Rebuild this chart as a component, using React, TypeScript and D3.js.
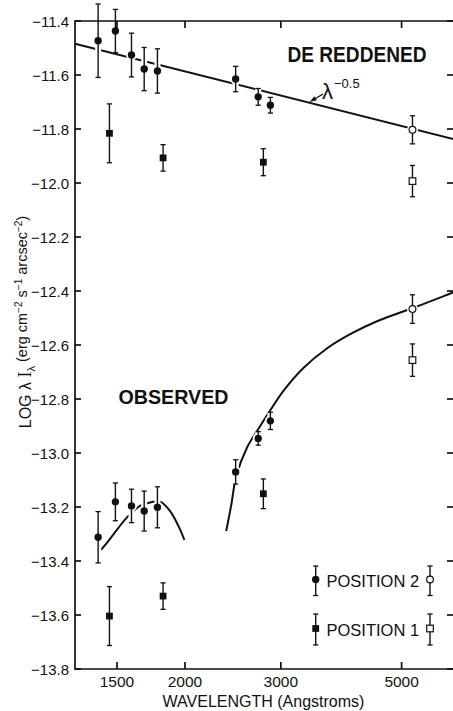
import React, { useEffect, useRef } from 'react';
import * as d3 from 'd3';

const W = 453;
const H = 711;

// tick values
const xTicks = [1500, 2000, 3000, 5000];
const yTicks = [-13.8, -13.6, -13.4, -13.2, -13.0, -12.8, -12.6, -12.4, -12.2, -12.0, -11.8, -11.6, -11.4];

// position 2 (circles), IUE wavelengths
const pos2Wave = [1385, 1490, 1595, 1683, 1780, 2478, 2726, 2870];
const pos2Dered = [-11.473, -11.437, -11.526, -11.578, -11.585, -11.615, -11.681, -11.712];
const pos2DeredErr = [0.136, 0.08, 0.081, 0.08, 0.082, 0.047, 0.031, 0.029];
const pos2Obs = [-13.312, -13.181, -13.196, -13.215, -13.201, -13.07, -12.946, -12.881];
const pos2ObsErr = [0.095, 0.07, 0.062, 0.074, 0.076, 0.045, 0.025, 0.032];

// position 1 (squares)
const pos1Wave = [1453, 1823, 2786];
const pos1Dered = [-11.816, -11.907, -11.923];
const pos1DeredErr = [0.109, 0.049, 0.05];
const pos1Obs = [-13.604, -13.53, -13.151];
const pos1ObsErr = [0.109, 0.049, 0.055];

// ground based optical points (open symbols)
const optWave = 5235;
const pos2Opt = [-11.803, -12.467];
const pos2OptErr = [0.052, 0.053];
const pos1Opt = [-11.993, -12.656];
const pos1OptErr = [0.058, 0.06];

// lambda^-0.5 law (end points)
const lawWave = [1256, 6240];
const lawLog = [-11.484, -11.838];

// reddened model curves
const uvWave = [1402, 1446, 1508, 1574, 1654, 1726, 1800, 1878, 1945, 1995];
const uvLog = [-13.359, -13.326, -13.278, -13.233, -13.196, -13.183, -13.18, -13.215, -13.27, -13.322];
const optCurveWave = [2381, 2432, 2485, 2603, 2728, 2871, 3033, 3300, 3655, 4030, 4516, 5241, 5977, 6235];
const optCurveLog = [-13.289, -13.193, -13.085, -12.978, -12.911, -12.841, -12.77, -12.685, -12.611, -12.559, -12.511, -12.463, -12.419, -12.404];

const FONT = '"Liberation Sans", Arial, Helvetica, sans-serif';

const buildChart = (node: SVGSVGElement) => {
  const svg = d3.select(node);
  svg.selectAll('*').remove();

  const left = 75, right = 454, top = 21, bottom = 669;
  const x = d3.scaleLog().domain([1256, 6240]).range([left, right]);
  const y = d3.scaleLinear().domain([-13.8, -11.4]).range([bottom, top]);

  svg.append('rect').attr('width', W).attr('height', H).attr('fill', '#fff');

  const line = d3
    .line<[number, number]>()
    .x(d => x(d[0]))
    .y(d => y(d[1]))
    .curve(d3.curveCatmullRom.alpha(0.5));

  const curves = [
    d3.zip(lawWave, lawLog),
    d3.zip(uvWave, uvLog),
    d3.zip(optCurveWave, optCurveLog),
  ];
  svg
    .append('g')
    .selectAll('path')
    .data(curves)
    .enter()
    .append('path')
    .attr('d', d => line(d as [number, number][]))
    .attr('fill', 'none')
    .attr('stroke', '#111')
    .attr('stroke-width', 2);

  // collect all points
  type Pt = { w: number; v: number; e: number; shape: 'circle' | 'square'; open: boolean };
  const pts: Pt[] = [];
  pos2Wave.forEach((w, i) => {
    pts.push({ w, v: pos2Dered[i], e: pos2DeredErr[i], shape: 'circle', open: false });
    pts.push({ w, v: pos2Obs[i], e: pos2ObsErr[i], shape: 'circle', open: false });
  });
  pos1Wave.forEach((w, i) => {
    pts.push({ w, v: pos1Dered[i], e: pos1DeredErr[i], shape: 'square', open: false });
    pts.push({ w, v: pos1Obs[i], e: pos1ObsErr[i], shape: 'square', open: false });
  });
  pos2Opt.forEach((v, i) => pts.push({ w: optWave, v, e: pos2OptErr[i], shape: 'circle', open: true }));
  pos1Opt.forEach((v, i) => pts.push({ w: optWave, v, e: pos1OptErr[i], shape: 'square', open: true }));

  // white halos so the curves break at the symbols
  const halo = svg.append('g');
  pts.forEach(p => {
    const cx = x(p.w), cy = y(p.v);
    halo.append('line')
      .attr('x1', cx).attr('x2', cx)
      .attr('y1', y(p.v + p.e)).attr('y2', y(p.v - p.e))
      .attr('stroke', '#fff').attr('stroke-width', 6);
    halo.append('circle').attr('cx', cx).attr('cy', cy).attr('r', 5.5).attr('fill', '#fff');
  });

  // frame
  const frame = svg.append('g').attr('stroke', '#111').attr('stroke-width', 1.7).attr('fill', 'none');
  frame.append('path').attr('d', `M${right},${top}H${left}V${bottom}H${right}`);

  // y ticks
  yTicks.forEach(v => {
    frame.append('line').attr('x1', left).attr('x2', left + 6).attr('y1', y(v)).attr('y2', y(v));
    frame.append('line').attr('x1', right - 7).attr('x2', right).attr('y1', y(v)).attr('y2', y(v));
  });
  xTicks.forEach(w => {
    frame.append('line').attr('x1', x(w)).attr('x2', x(w)).attr('y1', bottom).attr('y2', bottom - 7);
    frame.append('line').attr('x1', x(w)).attr('x2', x(w)).attr('y1', top).attr('y2', top + 7);
  });

  svg
    .append('g')
    .selectAll('text')
    .data(yTicks)
    .enter()
    .append('text')
    .attr('x', 69)
    .attr('y', d => y(d) + 5.5)
    .attr('text-anchor', 'end')
    .attr('font-family', FONT)
    .attr('font-size', 15)
    .attr('fill', '#111')
    .text(d => '\u2212' + Math.abs(d).toFixed(1));

  svg
    .append('g')
    .selectAll('text')
    .data(xTicks)
    .enter()
    .append('text')
    .attr('x', d => x(d))
    .attr('y', 687)
    .attr('text-anchor', 'middle')
    .attr('font-family', FONT)
    .attr('font-size', 15.5)
    .attr('fill', '#111')
    .text(d => String(d));

  // symbols
  const drawPoint = (g: any, cx: number, cy: number, yTop: number, yBot: number, shape: string, open: boolean) => {
    g.append('line').attr('x1', cx).attr('x2', cx).attr('y1', yTop).attr('y2', yBot)
      .attr('stroke', '#111').attr('stroke-width', 1.4);
    [yTop, yBot].forEach(yy => {
      g.append('line').attr('x1', cx - 2.6).attr('x2', cx + 2.6).attr('y1', yy).attr('y2', yy)
        .attr('stroke', '#111').attr('stroke-width', 1.3);
    });
    if (shape === 'circle') {
      g.append('circle').attr('cx', cx).attr('cy', cy).attr('r', open ? 3.4 : 3.7)
        .attr('fill', open ? '#fff' : '#111').attr('stroke', '#111').attr('stroke-width', open ? 1.2 : 0);
    } else {
      const s = open ? 6.6 : 6.8;
      g.append('rect').attr('x', cx - s / 2).attr('y', cy - s / 2).attr('width', s).attr('height', s)
        .attr('fill', open ? '#fff' : '#111').attr('stroke', '#111').attr('stroke-width', open ? 1.2 : 0);
    }
  };
  const marks = svg.append('g');
  pts.forEach(p => {
    drawPoint(marks, x(p.w), y(p.v), y(p.v + p.e), y(p.v - p.e), p.shape, p.open);
  });

  // legend
  const leg = svg.append('g');
  drawPoint(leg, 315.7, 579.5, 566, 595.5, 'circle', false);
  drawPoint(leg, 430, 579.5, 566, 595.5, 'circle', true);
  drawPoint(leg, 315.7, 628.5, 614, 645, 'square', false);
  drawPoint(leg, 430, 628.5, 614, 645, 'square', true);
  [['POSITION 2', 587], ['POSITION 1', 636]].forEach(([t, yy]) => {
    leg.append('text').attr('x', 326.5).attr('y', yy as number)
      .attr('font-family', FONT).attr('font-size', 16.5).attr('fill', '#111').text(t as string);
  });

  // titles
  svg.append('text').attr('x', 287.5).attr('y', 61.5)
    .attr('font-family', FONT).attr('font-weight', 'bold').attr('font-size', 21.5)
    .attr('textLength', 139).attr('lengthAdjust', 'spacingAndGlyphs')
    .attr('fill', '#111').text('DE REDDENED');
  svg.append('text').attr('x', 118.5).attr('y', 403.5)
    .attr('font-family', FONT).attr('font-weight', 'bold').attr('font-size', 20)
    .attr('textLength', 110).attr('lengthAdjust', 'spacingAndGlyphs')
    .attr('fill', '#111').text('OBSERVED');

  // lambda^-0.5 label with arrow
  const ann = svg.append('g');
  ann.append('line').attr('x1', 323).attr('y1', 94).attr('x2', 313).attr('y2', 100)
    .attr('stroke', '#111').attr('stroke-width', 1.4);
  ann.append('path').attr('d', 'M309.5,102 L314.5,96.2 L316.8,100.2 Z').attr('fill', '#111');
  const lt = ann.append('text').attr('x', 322).attr('y', 99)
    .attr('font-family', FONT).attr('font-size', 22).attr('fill', '#111');
  lt.append('tspan').text('\u03bb');
  lt.append('tspan').attr('font-size', 13).attr('dy', -11).attr('dx', 1).text('\u22120.5');

  // wavelength label
  svg.append('text').attr('x', 263.5).attr('y', 706.5).attr('text-anchor', 'middle')
    .attr('font-family', FONT).attr('font-size', 16).attr('fill', '#111')
    .text('WAVELENGTH (Angstroms)');

  // y axis label
  const yl = svg.append('text')
    .attr('transform', 'translate(31,322) rotate(-90)')
    .attr('text-anchor', 'middle')
    .attr('font-family', FONT)
    .attr('font-size', 16)
    .attr('fill', '#111');
  yl.append('tspan').text('LOG \u03bb ');
  yl.append('tspan').attr('font-family', '"Liberation Serif", "DejaVu Serif", serif').attr('font-size', 18).text('I');
  yl.append('tspan').attr('font-size', 11).attr('dy', 4).text('\u03bb');
  yl.append('tspan').attr('font-size', 14.5).attr('dy', -8).text(' (erg cm');
  yl.append('tspan').attr('font-size', 10).attr('dy', -5).text('\u22122');
  yl.append('tspan').attr('font-size', 14.5).attr('dy', 5).text(' s');
  yl.append('tspan').attr('font-size', 10).attr('dy', -5).text('\u22121');
  yl.append('tspan').attr('font-size', 14.5).attr('dy', 5).text(' arcsec');
  yl.append('tspan').attr('font-size', 10).attr('dy', -5).text('\u22122');
  yl.append('tspan').attr('font-size', 14.5).attr('dy', 5).text(')');
};

const App = () => {
  const ref = useRef<SVGSVGElement>(null);
  useEffect(() => {
    if (ref.current) buildChart(ref.current);
  });
  return (
    <svg
      ref={ref}
      width={W}
      height={H}
      style={{ position: 'absolute', left: 0, top: 0, display: 'block' }}
    />
  );
};

export default App;
